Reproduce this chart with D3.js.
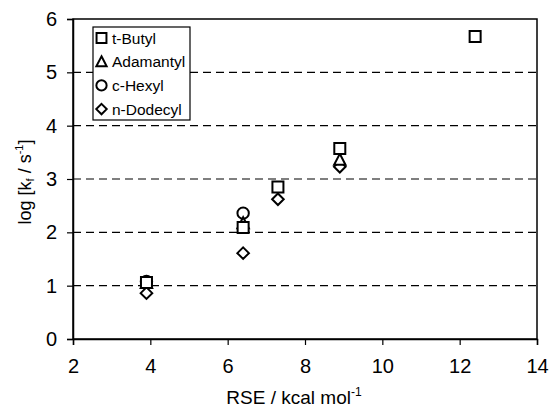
<!DOCTYPE html>
<html>
<head>
<meta charset="utf-8">
<script src="https://cdn.jsdelivr.net/npm/d3@7"></script>
<style>
  body { margin: 0; background: #fff; }
  svg text { font-family: "Liberation Sans", Arial, sans-serif; fill: #000; }
</style>
</head>
<body>
<div id="chart"></div>
<script>
// values
const rseButyl = [3.9, 6.4, 7.3, 8.9, 12.4]
const logButyl = [1.06, 2.09, 2.85, 3.57, 5.67]
const rseAdamantyl = [3.9, 6.4, 8.9]
const logAdamantyl = [1.05, 2.17, 3.36]
const rseHexyl = [3.9, 6.4]
const logHexyl = [1.08, 2.36]
const rseDodecyl = [3.9, 6.4, 7.3, 8.9]
const logDodecyl = [0.86, 1.61, 2.62, 3.23]

const xTicks = [2, 4, 6, 8, 10, 12, 14]
const yTicks = [0, 1, 2, 3, 4, 5, 6]
const gridTicks = [1, 2, 3, 4, 5]

const W = 550, H = 409
const margin = {left: 73, right: 13, top: 19, bottom: 70}

const series = [
    {name: "t-Butyl", shape: "square", x: rseButyl, y: logButyl},
    {name: "Adamantyl", shape: "triangle", x: rseAdamantyl, y: logAdamantyl},
    {name: "c-Hexyl", shape: "circle", x: rseHexyl, y: logHexyl},
    {name: "n-Dodecyl", shape: "diamond", x: rseDodecyl, y: logDodecyl},
]

const svg = d3.select("#chart").append("svg")
    .attr("width", W)
    .attr("height", H)

const x = d3.scaleLinear().domain([2, 14]).range([margin.left, W - margin.right])
const y = d3.scaleLinear().domain([0, 6]).range([H - margin.bottom, margin.top])

// dashed gridlines
svg.append("g")
    .selectAll("line")
    .data(gridTicks)
    .join("line")
    .attr("x1", x(2)).attr("x2", x(14))
    .attr("y1", d => y(d)).attr("y2", d => y(d))
    .attr("stroke", "#000")
    .attr("stroke-width", 1.2)
    .attr("stroke-dasharray", "8,5")

// frame
svg.append("rect")
    .attr("x", x(2)).attr("y", y(6))
    .attr("width", x(14) - x(2)).attr("height", y(0) - y(6))
    .attr("fill", "none")
    .attr("stroke", "#000")
    .attr("stroke-width", 1.5)

const xAxis = svg.append("g")
    .attr("transform", `translate(0,${y(0)})`)
    .call(d3.axisBottom(x).tickValues(xTicks).tickSize(6).tickPadding(14).tickFormat(d3.format("d")))
const yAxis = svg.append("g")
    .attr("transform", `translate(${x(2)},0)`)
    .call(d3.axisLeft(y).tickValues(yTicks).tickSize(6).tickPadding(10).tickFormat(d3.format("d")))

for (const ax of [xAxis, yAxis]) {
    ax.select(".domain").attr("stroke-width", 1.5)
    ax.selectAll(".tick line").attr("stroke-width", 1.2)
    ax.selectAll(".tick text").style("font-size", "20px")
}

function symbolPath(shape) {
    switch (shape) {
        case "square": return "M-5.5,-5.5H5.5V5.5H-5.5Z"
        case "triangle": return "M0,-6L5.7,5H-5.7Z"
        case "circle": return d3.arc()({innerRadius: 0, outerRadius: 5.7, startAngle: 0, endAngle: 2 * Math.PI})
        case "diamond": return "M0,-5.8L5.8,0L0,5.8L-5.8,0Z"
    }
}

// markers, drawn so that the square lies on top
for (const s of [...series].reverse()) {
    svg.append("g")
        .selectAll("path")
        .data(s.x.map((v, i) => [v, s.y[i]]))
        .join("path")
        .attr("d", symbolPath(s.shape))
        .attr("transform", d => `translate(${x(d[0])},${y(d[1])})`)
        .attr("fill", "#fff")
        .attr("stroke", "#000")
        .attr("stroke-width", 2)
}

// legend
const legend = svg.append("g").attr("transform", "translate(93,27)")
legend.append("rect")
    .attr("width", 97).attr("height", 93)
    .attr("fill", "#fff")
    .attr("stroke", "#000")
    .attr("stroke-width", 1.2)
series.forEach((s, i) => {
    const row = legend.append("g").attr("transform", `translate(8.5,${11 + i * 23.7})`)
    row.append("path")
        .attr("d", symbolPath(s.shape))
        .attr("transform", "scale(0.9)")
        .attr("fill", "#fff")
        .attr("stroke", "#000")
        .attr("stroke-width", 2.2)
    row.append("text")
        .attr("x", 10.5)
        .attr("dy", "0.36em")
        .style("font-size", "15.5px")
        .text(s.name)
})

// axis titles
const xt = svg.append("text")
    .attr("x", 294)
    .attr("y", 404)
    .attr("text-anchor", "middle")
    .style("font-size", "19px")
xt.append("tspan").text("RSE / kcal mol")
xt.append("tspan").attr("dy", -8).style("font-size", "12px").text("-1")

const yt = svg.append("text")
    .attr("transform", `translate(31,182) rotate(-90)`)
    .attr("text-anchor", "middle")
    .style("font-size", "18px")
yt.append("tspan").text("log [k")
yt.append("tspan").attr("dy", 3).style("font-size", "11px").text("f")
yt.append("tspan").attr("dy", -3).text(" / s")
yt.append("tspan").attr("dy", -8).style("font-size", "11px").text("-1")
yt.append("tspan").attr("dy", 8).text("]")
</script>
</body>
</html>
